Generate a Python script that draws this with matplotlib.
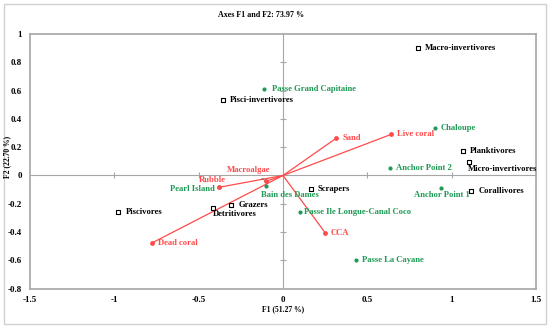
import numpy as np
import matplotlib.pyplot as plt
from matplotlib.patches import Rectangle

# observations (functional groups)
groups = ['Macro-invertivores', 'Pisci-invertivores', 'Planktivores', 'Micro-invertivores',
          'Corallivores', 'Scrapers', 'Grazers', 'Detritivores', 'Piscivores']
groups_x = [0.80, -0.356, 1.067, 1.10, 1.116, 0.164, -0.306, -0.417, -0.976]
groups_y = [0.90, 0.534, 0.172, 0.096, -0.109, -0.092, -0.205, -0.233, -0.261]

# sites (supplementary)
sites = ['Passe Grand Capitaine', 'Chaloupe', 'Anchor Point 2', 'Anchor Point 1',
         'Passe Ile Longue-Canal Coco', 'Passe La Cayane', 'Bain des Dames', 'Pearl Island']
sites_x = [-0.115, 0.899, 0.634, 0.937, 0.10, 0.43, -0.103, -0.378]
sites_y = [0.612, 0.334, 0.054, -0.09, -0.257, -0.594, -0.075, -0.083]

# substrate variables
variables = ['Sand', 'Live coral', 'Dead coral', 'CCA', 'Rubble', 'Macroalgae']
vars_x = [0.316, 0.64, -0.779, 0.249, -0.378, -0.099]
vars_y = [0.264, 0.29, -0.478, -0.403, -0.083, -0.04]

xticks = [-1.5, -1, -0.5, 0, 0.5, 1, 1.5]
xtick_labels = ['-1.5', '-1', '-0.5', '0', '0.5', '1', '1.5']
yticks = [-0.8, -0.6, -0.4, -0.2, 0, 0.2, 0.4, 0.6, 0.8, 1]
ytick_labels = ['-0.8', '-0.6', '-0.4', '-0.2', '0', '0.2', '0.4', '0.6', '0.8', '1']

# label offsets in pixels (dx, dy, ha)
group_off = {'Micro-invertivores': (-1, -7, 'left'), 'Detritivores': (0, -6, 'left')}
site_off = {'Anchor Point 1': (1, -7, 'center'), 'Bain des Dames': (-5, -9, 'left'),
            'Pearl Island': (-4, -2, 'right'), 'Passe Ile Longue-Canal Coco': (4, 0, 'left'),
            'Passe Grand Capitaine': (8, 0, 'left')}
var_off = {'Rubble': (-7, 7, 'center')}

green = '#1f9a55'
red = '#ff4a4a'
grey = '#a6a6a6'
fs = 6.2

plt.rcParams['font.family'] = ['Liberation Serif', 'DejaVu Serif']
plt.rcParams['font.weight'] = 'bold'

fig = plt.figure(figsize=(5.5, 3.28), dpi=100)
fig.patches.append(Rectangle((4 / 550, 4 / 328), 542 / 550, 320 / 328, transform=fig.transFigure,
                             fill=False, edgecolor='#d0d0d0', linewidth=1))
ax = fig.add_axes([30 / 550, 1 - 288.7 / 328, 506 / 550, (288.7 - 34) / 328])

ax.set_xlim(-1.5, 1.5)
ax.set_ylim(-0.8, 1)
ax.set_xticks(xticks)
ax.set_xticklabels(xtick_labels)
ax.set_yticks(yticks)
ax.set_yticklabels(ytick_labels)
ax.tick_params(length=0, labelsize=6.5, pad=6)
ax.tick_params(axis='x', pad=5)
for s in ax.spines.values():
    s.set_color(grey)
    s.set_linewidth(1.2)

ax.axhline(0, color=grey, lw=0.8, zorder=0)
ax.axvline(0, color=grey, lw=0.8, zorder=0)
inner_x = [t for t in xticks[1:-1] if t != 0]
inner_y = [t for t in yticks[1:-1] if t != 0]
ax.plot(inner_x, [0] * len(inner_x), ls='none', marker='|', ms=5, color=grey, mew=0.8)
ax.plot([0] * len(inner_y), inner_y, ls='none', marker='_', ms=5, color=grey, mew=0.8)

px = 0.72  # pixels -> points

# sites
ax.scatter(sites_x, sites_y, s=4, color=green, zorder=3)
for n, x, y in zip(sites, sites_x, sites_y):
    dx, dy, ha = site_off.get(n, (6, 0, 'left'))
    ax.annotate(n, (x, y), xytext=(dx * px, dy * px), textcoords='offset points',
                ha=ha, va='center', fontsize=fs, color=green, fontweight='bold')

# variables
for n, x, y in zip(variables, vars_x, vars_y):
    ax.plot([0, x], [0, y], color=red, lw=0.9, zorder=2)
    if n == 'Macroalgae':
        ax.annotate(n, (x, y), xytext=(-18 * px, 11 * px), textcoords='offset points',
                    ha='center', va='center', fontsize=fs, color=red, fontweight='bold',
                    arrowprops=dict(arrowstyle='-', color='#606060', lw=0.6, shrinkA=2, shrinkB=1))
    else:
        dx, dy, ha = var_off.get(n, (6, 0, 'left'))
        ax.annotate(n, (x, y), xytext=(dx * px, dy * px), textcoords='offset points',
                    ha=ha, va='center', fontsize=fs, color=red, fontweight='bold')
ax.scatter(vars_x, vars_y, s=6, color=red, zorder=4)

# groups
ax.scatter(groups_x, groups_y, s=8, marker='s', facecolor='white', edgecolor='black',
           linewidth=0.8, zorder=5)
for n, x, y in zip(groups, groups_x, groups_y):
    dx, dy, ha = group_off.get(n, (7, 0, 'left'))
    ax.annotate(n, (x, y), xytext=(dx * px, dy * px), textcoords='offset points',
                ha=ha, va='center', fontsize=fs, color='black', fontweight='bold')

fig.text(261 / 550, 1 - 15 / 328, 'Axes F1 and F2: 73.97 %', ha='center', va='center',
         fontsize=5.8, fontweight='bold')
fig.text(283 / 550, 1 - 309 / 328, 'F1 (51.27 %)', ha='center', va='center',
         fontsize=5.5, fontweight='bold')
fig.text(7 / 550, 1 - 157 / 328, 'F2 (22.70 %)', ha='center', va='center', rotation=90,
         fontsize=5.5, fontweight='bold')

fig.savefig('out.png', dpi=100)
